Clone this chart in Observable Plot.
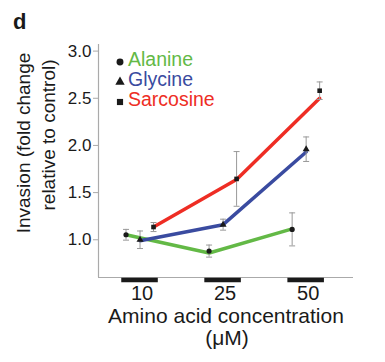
<!DOCTYPE html>
<html>
<head>
<meta charset="utf-8">
<script src="https://cdn.jsdelivr.net/npm/d3@7"></script>
<script src="https://cdn.jsdelivr.net/npm/@observablehq/plot@0.6"></script>
<style>
  html, body { margin: 0; padding: 0; background: #fff; }
  svg { display: block; font-family: "Liberation Sans", Arial, Helvetica, sans-serif; }
</style>
</head>
<body>
<div id="chart"></div>
<script>
const concentrations = ["10", "25", "50"];
const seriesNames = ["Alanine", "Glycine", "Sarcosine"];
const alanine = [1.053, 0.88, 1.11];
const glycine = [1.00, 1.16, 1.96];
const sarcosine = [1.135, 1.645, 2.58];
const alanineErr = [0.057, 0.064, 0.175];
const glycineErr = [0.093, 0.058, 0.13];
const sarcosineErr = [0.048, 0.29, 0.093];
const alanineLine = [1.053, 0.86, 1.115];
const glycineLine = [0.99, 1.16, 1.93];
const sarcosineLine = [1.135, 1.64, 2.50];
const yTicks = [1.0, 1.5, 2.0, 2.5, 3.0];
const yDomain = [0.6, 3.07];
const xDomain = [-0.5, 2.57];

const colors = ["#63b946", "#3a4ba0", "#ee2d24"];
const symbols = ["circle", "triangle", "square"];
const dxOffsets = [-14, 0, 13.5];

const values = [alanine, glycine, sarcosine];
const errs = [alanineErr, glycineErr, sarcosineErr];
const lineVals = [alanineLine, glycineLine, sarcosineLine];

const capSymbol = {draw(ctx) { ctx.moveTo(-3, 0); ctx.lineTo(3, 0); }};

const marks = [
  Plot.ruleX([xDomain[0]], {stroke: "#aaa", strokeWidth: 1.2}),
  Plot.ruleY([yDomain[0]], {stroke: "#aaa", strokeWidth: 1.2}),
  Plot.ruleY(concentrations.map((c, i) => i), {
    y: () => yDomain[0], x1: d => d - 0.22, x2: d => d + 0.22,
    stroke: "#1a1a1a", strokeWidth: 4.5, dy: 2.5
  }),
  Plot.axisY({ticks: yTicks, tickFormat: d3.format(".1f"), tickSize: 5, tickPadding: 2,
    fontSize: 17, color: "#1a1a1a", label: null}),
  Plot.axisX({ticks: [0, 1, 2], tickFormat: i => concentrations[i], tickSize: 0, tickPadding: 8,
    fontSize: 20, color: "#1a1a1a", dx: 2, label: null})
];

seriesNames.forEach((name, s) => {
  const data = concentrations.map((c, i) => ({i, lv: lineVals[s][i]}));
  marks.push(Plot.line(data, {x: "i", y: "lv", dx: dxOffsets[s], stroke: colors[s], strokeWidth: 3.5}));
});
seriesNames.forEach((name, s) => {
  const data = concentrations.map((c, i) => ({
    i, v: values[s][i], lo: values[s][i] - errs[s][i], hi: values[s][i] + errs[s][i]
  }));
  marks.push(Plot.ruleX(data, {x: "i", y1: "lo", y2: "hi", dx: dxOffsets[s], stroke: "#999", strokeWidth: 1}));
  marks.push(Plot.dot(data, {x: "i", y: "lo", dx: dxOffsets[s], symbol: capSymbol, stroke: "#999", fill: "none", strokeWidth: 1}));
  marks.push(Plot.dot(data, {x: "i", y: "hi", dx: dxOffsets[s], symbol: capSymbol, stroke: "#999", fill: "none", strokeWidth: 1}));
  marks.push(Plot.dot(data, {x: "i", y: "v", dx: dxOffsets[s], symbol: symbols[s], r: 2.6, fill: "#1a1a1a", stroke: "none"}));
});

const svg = Plot.plot({
  width: 385, height: 362,
  marginLeft: 98, marginRight: 32, marginTop: 44, marginBottom: 85,
  x: {domain: xDomain, axis: null},
  y: {domain: yDomain, axis: null},
  style: {fontFamily: '"Liberation Sans", Arial, Helvetica, sans-serif', background: "#fff"},
  marks
});

const root = d3.select(svg);
root.selectAll('[aria-label="y-axis tick"]').attr("stroke", "#aaa");

// panel letter
root.append("text").attr("x", 13).attr("y", 29).attr("text-anchor", "start")
  .attr("font-size", 22).attr("font-weight", "bold").attr("fill", "#1a1a1a").text("d");

// y-axis title (two lines)
root.append("text").attr("transform", "translate(30,143) rotate(-90)").attr("text-anchor", "middle")
  .attr("font-size", 19).attr("fill", "#1a1a1a").text("Invasion (fold change");
root.append("text").attr("transform", "translate(55,135) rotate(-90)").attr("text-anchor", "middle")
  .attr("font-size", 19).attr("fill", "#1a1a1a").text("relative to control)");

// x-axis title
root.append("text").attr("x", 226).attr("y", 323).attr("text-anchor", "middle")
  .attr("font-size", 21).attr("fill", "#1a1a1a").text("Amino acid concentration");
root.append("text").attr("x", 227).attr("y", 345).attr("text-anchor", "middle")
  .attr("font-size", 21).attr("fill", "#1a1a1a").text("(μM)");

// legend
const legendSymbols = [d3.symbolCircle, d3.symbolTriangle, d3.symbolSquare];
const legend = root.append("g");
seriesNames.forEach((name, s) => {
  const cy = 62 + s * 20;
  legend.append("path").attr("transform", `translate(120,${cy})`)
    .attr("d", d3.symbol(legendSymbols[s], 38)())
    .attr("fill", "#1a1a1a").attr("stroke", "none");
  legend.append("text").attr("x", 128).attr("y", cy + 4).attr("text-anchor", "start")
    .attr("font-size", 19.5).attr("fill", colors[s]).text(name);
});

document.getElementById("chart").appendChild(svg);
</script>
</body>
</html>
